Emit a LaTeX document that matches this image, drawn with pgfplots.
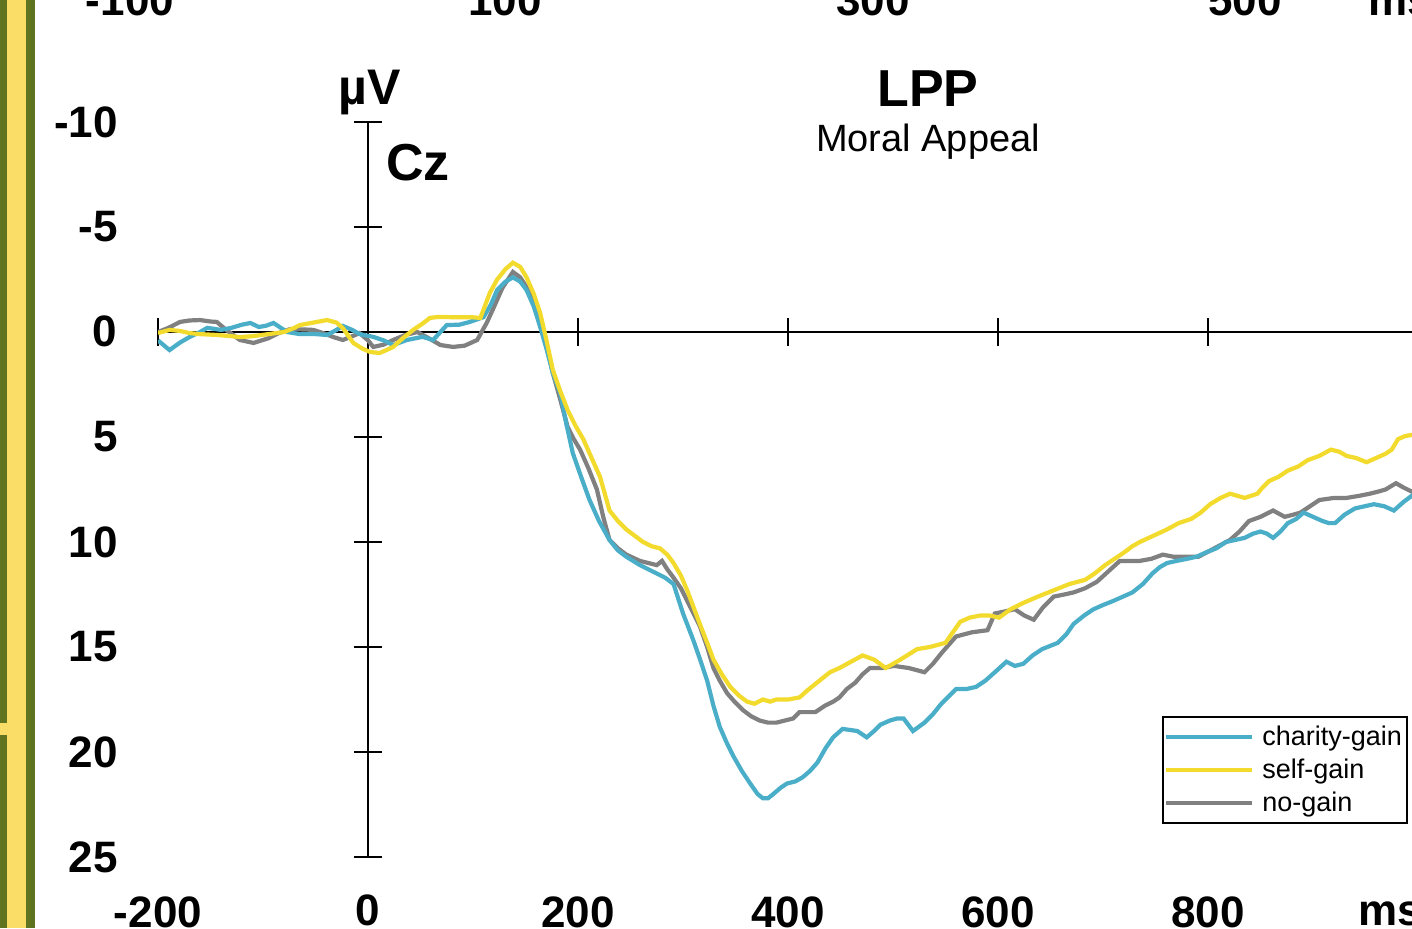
\documentclass[border=0pt]{standalone}
\usepackage{pgfplots}
\usepackage{pgfplotstable}
\pgfplotsset{compat=1.18}
\usepackage{fontspec}
\setmainfont{Liberation Sans}
\definecolor{cblue}{RGB}{74,174,200}
\definecolor{cyell}{RGB}{242,219,45}
\definecolor{cgray}{RGB}{128,128,128}
\definecolor{olivebar}{RGB}{96,116,32}
\definecolor{stripey}{RGB}{249,221,102}

\pgfplotstableread{
x y
-200 0.4
-189 0.86
-179 0.5
-170 0.24
-160 0.0
-153 -0.2
-140 -0.1
-130 -0.2
-120 -0.35
-112 -0.43
-104 -0.24
-97 -0.3
-90 -0.43
-77 0.0
-65 0.1
-50 0.1
-39 0.14
-30 -0.1
-24 -0.29
-15 -0.1
-8 0.1
5 0.23
15 0.4
24 0.62
37 0.38
52 0.23
62 0.38
75 -0.33
87 -0.35
97 -0.48
110 -0.71
117 -1.3
123 -2.0
131 -2.4
138 -2.6
145 -2.4
151 -2.0
158 -1.2
164 -0.24
170 0.8
176 1.95
183 2.9
189 4.4
195 5.76
203 6.9
211 8.0
220 9.0
230 9.9
238 10.4
246 10.7
259 11.1
275 11.5
283 11.7
291 12.0
300 13.4
310 14.7
317 15.7
323 16.6
329 17.8
335 18.8
342 19.6
348 20.2
356 20.9
364 21.5
371 22.0
376 22.2
381 22.2
386 22.0
393 21.7
399 21.5
407 21.4
414 21.2
421 20.9
428 20.5
436 19.8
443 19.3
452 18.9
466 19.0
475 19.3
482 19.0
488 18.7
497 18.5
504 18.4
510 18.4
519 19.0
530 18.6
538 18.2
546 17.7
560 17.0
570 17.0
579 16.9
588 16.6
597 16.2
608 15.7
616 15.9
624 15.8
633 15.4
642 15.1
657 14.8
665 14.4
672 13.9
682 13.5
691 13.2
700 13.0
710 12.8
719 12.6
728 12.4
738 12.0
747 11.5
754 11.2
761 11.0
770 10.9
780 10.8
789 10.7
798 10.5
808 10.3
817 10.0
826 9.9
835 9.8
843 9.6
850 9.5
856 9.6
862 9.8
869 9.5
876 9.1
884 8.9
891 8.6
900 8.8
909 9.0
915 9.1
921 9.1
930 8.7
940 8.4
949 8.3
958 8.2
968 8.3
977 8.5
986 8.1
994 7.8
1000 7.6
}\charity

\pgfplotstableread{
x y
-200 0.05
-189 -0.1
-179 -0.05
-170 0.05
-160 0.1
-144 0.14
-130 0.2
-122 0.24
-110 0.2
-95 0.1
-80 0.0
-70 -0.2
-65 -0.33
-52 -0.45
-39 -0.57
-30 -0.45
-24 -0.19
-14 0.52
-5 0.8
2 0.95
11 1.0
18 0.85
24 0.71
33 0.3
43 -0.1
52 -0.4
59 -0.67
67 -0.72
75 -0.71
90 -0.7
100 -0.7
107 -0.67
116 -1.86
123 -2.5
131 -3.0
138 -3.3
145 -3.1
151 -2.6
158 -1.8
164 -0.9
170 0.4
176 1.8
183 2.8
190 3.7
198 4.5
205 5.1
213 6.0
221 6.9
230 8.5
238 9.0
246 9.4
254 9.7
262 10.0
270 10.2
278 10.3
285 10.6
291 11.0
298 11.6
304 12.3
310 13.1
316 13.9
323 14.8
329 15.6
337 16.3
345 16.9
353 17.3
361 17.6
368 17.7
376 17.5
383 17.6
389 17.5
400 17.5
411 17.4
420 17.0
430 16.6
440 16.2
449 16.0
460 15.7
471 15.4
482 15.6
493 16.0
507 15.6
523 15.1
535 15.0
550 14.8
557 14.3
564 13.8
573 13.6
583 13.5
592 13.5
601 13.6
612 13.2
624 12.9
638 12.6
653 12.3
668 12.0
683 11.8
692 11.5
702 11.1
711 10.8
720 10.5
728 10.2
735 10.0
748 9.7
761 9.4
772 9.1
784 8.9
793 8.6
802 8.2
812 7.9
821 7.7
828 7.8
835 7.9
841 7.8
847 7.7
852 7.4
858 7.1
867 6.9
876 6.6
886 6.4
895 6.1
906 5.9
917 5.6
925 5.7
932 5.9
941 6.0
951 6.2
960 6.0
969 5.8
975 5.6
981 5.1
988 4.95
994 4.9
1000 4.9
}\selfgain

\pgfplotstableread{
x y
-200 0.0
-190 -0.2
-179 -0.48
-170 -0.55
-160 -0.57
-150 -0.5
-144 -0.48
-135 -0.1
-122 0.38
-109 0.52
-95 0.3
-85 0.05
-74 -0.14
-60 -0.12
-52 -0.1
-40 0.1
-33 0.24
-24 0.38
-15 0.2
-8 0.05
0 0.4
5 0.71
15 0.6
24 0.38
35 0.15
47 0.0
58 0.3
69 0.62
81 0.71
92 0.65
104 0.38
113 -0.43
120 -1.2
128 -2.1
138 -2.86
145 -2.6
151 -2.14
158 -1.4
164 -0.57
170 0.6
176 1.95
183 3.2
190 4.5
196 5.1
202 5.6
210 6.5
218 7.5
224 8.8
230 9.9
238 10.3
246 10.6
259 10.9
267 11.0
275 11.1
280 10.9
285 11.3
291 11.7
298 12.2
304 12.8
310 13.4
316 14.0
323 15.0
329 16.0
335 16.6
342 17.2
349 17.6
357 18.0
365 18.3
373 18.5
381 18.6
389 18.6
397 18.5
405 18.4
411 18.1
418 18.1
426 18.1
435 17.8
443 17.6
449 17.4
456 17.0
464 16.7
471 16.3
478 16.0
490 16.0
501 15.9
515 16.0
530 16.2
538 15.8
546 15.3
553 14.9
560 14.5
575 14.3
590 14.2
597 13.4
607 13.3
616 13.2
625 13.5
634 13.7
643 13.1
653 12.6
663 12.5
672 12.4
683 12.2
694 11.9
705 11.4
716 10.9
725 10.9
735 10.9
746 10.8
757 10.6
767 10.7
776 10.7
791 10.7
806 10.3
821 9.9
830 9.5
839 9.0
850 8.8
862 8.5
873 8.8
881 8.7
888 8.6
897 8.3
906 8.0
920 7.9
932 7.9
944 7.8
954 7.7
962 7.6
969 7.5
979 7.2
986 7.4
994 7.6
1000 7.7
}\nogain

\begin{document}
\begin{tikzpicture}
\useasboundingbox (0,0) rectangle (706pt,-464pt);
\clip (0,0) rectangle (706pt,-464pt);
% left decorative stripe
\fill[olivebar] (0,0) rectangle (17.5pt,-464pt);
\fill[stripey] (3.5pt,0) rectangle (13pt,-464pt);
\fill[stripey] (0,-361.5pt) rectangle (3.5pt,-367.5pt);
% partial labels of the panel above
\begin{scope}[every node/.style={font=\fontsize{22}{26}\selectfont\bfseries, anchor=base, inner sep=0pt}]
\node at (65pt,-7.5pt) {-100};
\node at (252.5pt,-7.5pt) {100};
\node at (436.5pt,-7.5pt) {300};
\node at (622.5pt,-7.5pt) {500};
\node[anchor=base west] at (684pt,-7.5pt) {ms};
\end{scope}
\begin{axis}[
  at={(79pt,-61pt)}, anchor=north west,
  scale only axis, width=630pt, height=367.5pt,
  xmin=-200, xmax=1000, ymin=-10, ymax=25, y dir=reverse,
  axis lines=middle,
  axis line style={-},
  x axis line style={line width=1pt},
  y axis line style={line width=1.4pt},
  tick align=center,
  major tick length=14pt,
  every tick/.style={black, line width=1pt},
  xtick={-200,0,200,400,600,800},
  xticklabels={-200,0,200,400,600,800},
  ytick={-10,-5,0,5,10,15,20,25},
  yticklabels={-10,-5,0,5,10,15,20,25},
  xticklabel style={font=\fontsize{22}{26}\selectfont\bfseries, anchor=base, inner sep=0pt, yshift=-290.5pt},
  yticklabel style={font=\fontsize{22}{26}\selectfont\bfseries, anchor=east, inner sep=0pt, xshift=-118pt},
  legend style={at={(0.797,0.192)}, anchor=north west, draw=black, line width=1pt,
    font=\fontsize{13.5}{16}\selectfont, row sep=1.2pt, inner xsep=0.5pt, inner ysep=2.5pt,
    cells={anchor=west}},
  legend image code/.code={\draw[#1] (0pt,0pt) -- (43pt,0pt); \path (45pt,0pt);},
]
\addlegendimage{cblue, line width=2.1pt}
\addlegendentry{charity-gain}
\addlegendimage{cyell, line width=2.1pt}
\addlegendentry{self-gain}
\addlegendimage{cgray, line width=2.1pt}
\addlegendentry{no-gain}
\addplot[cgray, line width=2.1pt, forget plot] table[x=x,y=y] {\nogain};
\addplot[cblue, line width=2.1pt, forget plot] table[x=x,y=y] {\charity};
\addplot[cyell, line width=2.1pt, forget plot] table[x=x,y=y] {\selfgain};
\end{axis}
% zero tick labels (hidden by the centred axis lines)
\node[font=\fontsize{22}{26}\selectfont\bfseries, anchor=east, inner sep=0pt] at (58.5pt,-165.5pt) {0};
\node[font=\fontsize{22}{26}\selectfont\bfseries, anchor=base, inner sep=0pt] at (184pt,-462.5pt) {0};
% titles and axis names
\node[font=\fontsize{26}{30}\selectfont\bfseries, anchor=base, inner sep=0pt] at (464pt,-53pt) {LPP};
\node[font=\fontsize{19}{23}\selectfont, anchor=base, inner sep=0pt] at (464pt,-75.5pt) {Moral Appeal};
\node[font=\fontsize{25}{29}\selectfont\bfseries, anchor=base, inner sep=0pt] at (184.75pt,-52pt) {µV};
\node[font=\fontsize{26}{30}\selectfont\bfseries, anchor=base west, inner sep=0pt] at (193pt,-90pt) {Cz};
\node[font=\fontsize{22}{26}\selectfont\bfseries, anchor=base west, inner sep=0pt] at (679pt,-462.5pt) {ms};
\end{tikzpicture}
\end{document}
